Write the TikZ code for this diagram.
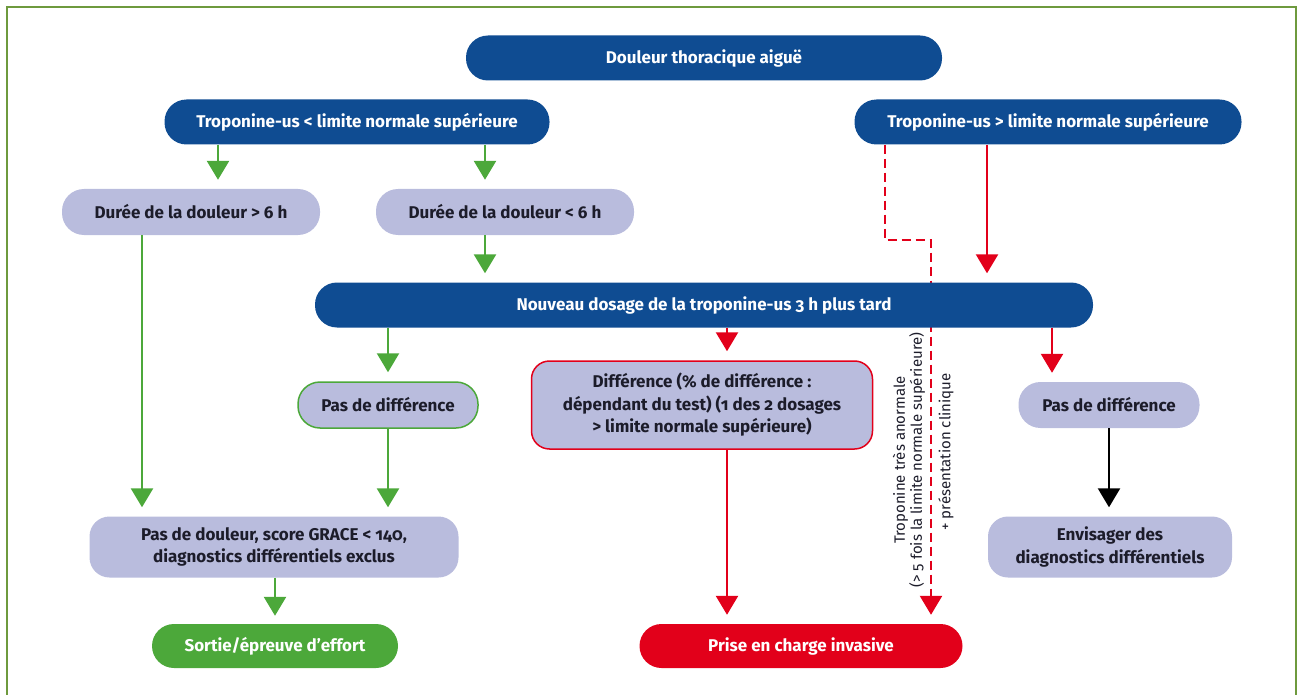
\documentclass[tikz,border=0pt]{standalone}
\usepackage{fontspec}
\setmainfont{Fira Sans}[Numbers=OldStyle]
\usetikzlibrary{arrows.meta,backgrounds}
\definecolor{dblue}{HTML}{0F4C92}
\definecolor{lav}{HTML}{B9BCDD}
\definecolor{grn}{HTML}{4CA83A}
\definecolor{rd}{HTML}{E2001A}
\definecolor{frame}{HTML}{6E9A3E}
\definecolor{txt}{HTML}{1C1C2A}
\tikzset{
  base/.style={rectangle, inner sep=0pt, font=\bfseries\fontsize{17}{22.5}\selectfont, align=center},
  bluebox/.style={base, fill=dblue, text=white, minimum height=45pt, rounded corners=22pt},
  lavbox/.style={base, fill=lav, text=txt, minimum height=46pt, rounded corners=22pt},
  grnbox/.style={base, fill=grn, text=white, minimum height=44pt, rounded corners=22pt},
  redbox/.style={base, fill=rd, text=white, minimum height=44pt, rounded corners=22pt},
  tip/.style={-{Triangle[width=22pt,length=19pt]}},
  garr/.style={draw=grn, line width=2.5pt, tip},
  rarr/.style={draw=rd, line width=2.5pt, tip},
  karr/.style={draw=black, line width=2.5pt, tip},
  rdash/.style={draw=rd, line width=2.5pt, dash pattern=on 9pt off 5pt, tip},
  vlab/.style={font=\fontsize{15}{17}\selectfont, text=txt, rotate=90, align=center, inner sep=0pt}
}
\begin{document}
\begin{tikzpicture}[x=1pt,y=-1pt]
\useasboundingbox (0,0) rectangle (1303,695);
\draw[frame, line width=2pt] (7,708) -- (7,7) -- (1296,7) -- (1296,708);

% nodes
\node[bluebox, minimum width=476pt] (top) at (704,58) {Douleur thoracique aiguë};
\node[bluebox, minimum width=385pt] (tlow) at (357,122) {Troponine-us < limite normale supérieure};
\node[bluebox, minimum width=387pt] (thigh) at (1048,122) {Troponine-us > limite normale supérieure};
\node[lavbox, minimum width=258pt] (d6a) at (191,212) {Durée de la douleur > 6 h};
\node[lavbox, minimum width=258pt] (d6b) at (505,212) {Durée de la douleur < 6 h};
\node[bluebox, minimum width=778pt] (nouv) at (704,305) {Nouveau dosage de la troponine-us 3 h plus tard};
\node[lavbox, draw=grn, line width=1.5pt, minimum width=180pt] (pdg) at (388,405) {Pas de différence};
\node[lavbox, draw=rd, line width=1.5pt, minimum width=341pt, minimum height=88pt, rounded corners=18pt] (diff) at (702,405) {Différence (\% de différence :\\dépendant du test) (1 des 2 dosages\\> limite normale supérieure)};
\node[lavbox, minimum width=181pt] (pdr) at (1109,405) {Pas de différence};
\node[lavbox, minimum width=369pt, minimum height=61pt, rounded corners=20pt] (pdd) at (274,547) {Pas de douleur, score GRACE < 140,\\diagnostics différentiels exclus};
\node[lavbox, minimum width=244pt, minimum height=61pt, rounded corners=20pt] (env) at (1110,547) {Envisager des\\diagnostics différentiels};
\node[grnbox, minimum width=246pt] (sortie) at (275,646) {Sortie/épreuve d’effort};
\node[redbox, minimum width=323pt] (prise) at (801,646) {Prise en charge invasive};

% connectors
\coordinate (dk1) at (885,240);
\coordinate (dk2) at (931,240);
\begin{pgfonlayer}{background}
\draw[rdash] (thigh.south -| dk1) -- (dk1) -- (dk2) -- ([yshift=9pt]prise.north -| dk2);
\end{pgfonlayer}
\draw[garr] (tlow.south -| 218,0) -- ([yshift=9pt]d6a.north -| 218,0);
\draw[garr] (tlow.south -| 485,0) -- ([yshift=9pt]d6b.north -| 485,0);
\draw[garr] (d6b.south -| 485,0) -- ([yshift=9pt]nouv.north -| 485,0);
\draw[garr] (d6a.south -| 142,0) -- ([yshift=9pt]pdd.north -| 142,0);
\draw[garr] (nouv.south -| 388,0) -- ([yshift=9pt]pdg.north);
\draw[garr] (pdg.south) -- ([yshift=9pt]pdd.north -| 388,0);
\draw[garr] (pdd.south -| 275,0) -- ([yshift=8pt]sortie.north);
\draw[rarr] (nouv.south -| 727,0) -- ([yshift=9pt]diff.north -| 727,0);
\draw[rarr] (diff.south -| 727,0) -- ([yshift=9pt]prise.north -| 727,0);
\draw[rarr] (thigh.south -| 987,0) -- ([yshift=9pt]nouv.north -| 987,0);
\draw[rarr] (nouv.south -| 1052,0) -- ([yshift=9pt]pdr.north -| 1052,0);
\draw[karr] (pdr.south) -- ([yshift=9pt]env.north -| pdr.south);

% rotated labels
\node[vlab] (lab1) at (909,460) {Troponine très anormale\\(> 5 fois la limite normale supérieure)};
\node[vlab] (lab2) at (946,452) {+ présentation clinique};
\end{tikzpicture}
\end{document}
